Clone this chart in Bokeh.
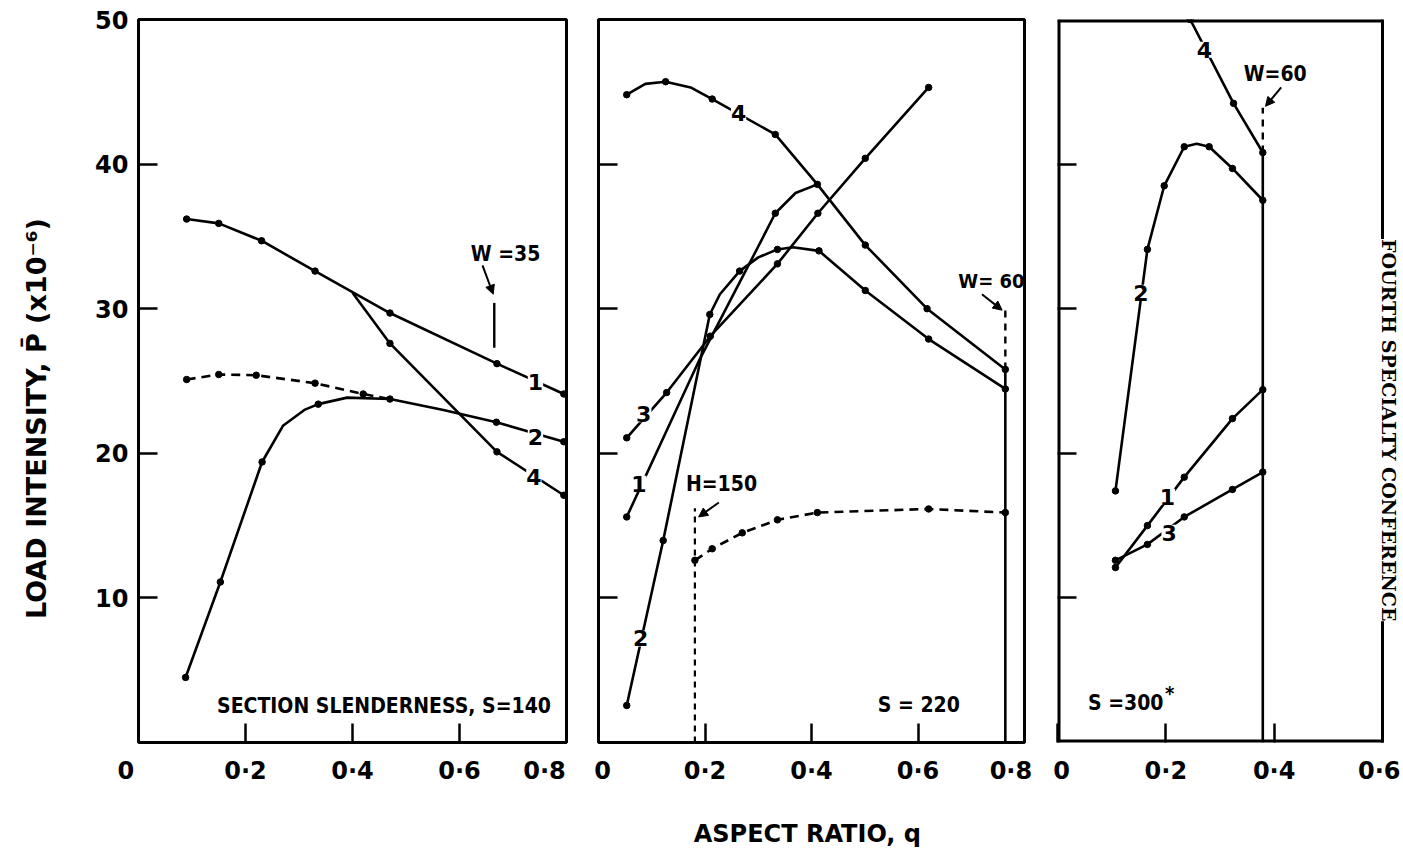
import math
from bokeh.plotting import figure
from bokeh.layouts import row
from bokeh.models import Label, Arrow, NormalHead, FixedTicker, Range1d
from bokeh.embed import file_html
from bokeh.resources import INLINE

# ---------------- data ----------------
# Panel 1 : S = 140   (q = aspect ratio, P = load intensity x1e-6)
p1_c1_q = [0.09, 0.15, 0.23, 0.33, 0.47, 0.67, 0.795]
p1_c1_P = [36.2, 35.9, 34.7, 32.6, 29.7, 26.2, 24.1]
p1_c4_q = [0.40, 0.47, 0.67, 0.795]
p1_c4_P = [31.1, 27.6, 20.1, 17.1]
p1_c4_mark = [1, 2, 3]
p1_c2_q = [0.09, 0.15, 0.22, 0.33, 0.42, 0.47]
p1_c2_P = [25.1, 25.45, 25.4, 24.85, 24.1, 23.75]
p1_c2_mark = [0, 1, 2, 3, 4]
p1_c3_q = [0.088, 0.153, 0.231, 0.27, 0.31, 0.336, 0.39, 0.47, 0.57, 0.669, 0.795]
p1_c3_P = [4.5, 11.1, 19.4, 21.9, 23.0, 23.4, 23.85, 23.75, 23.0, 22.15, 20.8]
p1_c3_mark = [0, 1, 2, 5, 7, 9, 10]
p1_W_q = [0.665, 0.665]
p1_W_P = [27.3, 30.4]

# Panel 2 : S = 220
p2_c4_q = [0.053, 0.088, 0.126, 0.173, 0.2135, 0.332, 0.411, 0.501, 0.617, 0.764]
p2_c4_P = [44.8, 45.55, 45.7, 45.3, 44.5, 42.05, 38.6, 34.4, 30.0, 25.8]
p2_c4_mark = [0, 2, 4, 5, 6, 7, 8, 9]
p2_c3_q = [0.053, 0.128, 0.21, 0.336, 0.412, 0.501, 0.62]
p2_c3_P = [21.07, 24.2, 28.1, 33.1, 36.6, 40.4, 45.3]
p2_c2_q = [0.053, 0.1215, 0.209, 0.228, 0.265, 0.30, 0.336, 0.365, 0.414, 0.501, 0.62, 0.764]
p2_c2_P = [2.56, 13.97, 29.6, 31.0, 32.6, 33.55, 34.1, 34.25, 34.0, 31.26, 27.9, 24.45]
p2_c2_mark = [0, 1, 2, 4, 6, 8, 9, 10, 11]
p2_c1_q = [0.053, 0.19, 0.30, 0.332, 0.37, 0.411]
p2_c1_P = [15.6, 26.5, 34.3, 36.6, 38.0, 38.6]
p2_c1_mark = [0, 3]
p2_H_q = [0.181, 0.2135, 0.27, 0.336, 0.411, 0.62, 0.764]
p2_H_P = [12.6, 13.4, 14.5, 15.4, 15.9, 16.15, 15.9]
p2_Hline_q = [0.181, 0.181]
p2_Hline_P = [0.0, 16.2]
p2_W_q = [0.764, 0.764]
p2_W_solid_P = [0.0, 25.8]
p2_W_dash_P = [25.8, 30.1]

# Panel 3 : S = 300*
p3_c4_q = [0.245, 0.325, 0.379]
p3_c4_P = [50.0, 44.2, 40.8]
p3_c2_q = [0.107, 0.166, 0.197, 0.234, 0.257, 0.280, 0.323, 0.379]
p3_c2_P = [17.4, 34.1, 38.5, 41.2, 41.4, 41.2, 39.7, 37.5]
p3_c2_mark = [0, 1, 2, 3, 5, 6, 7]
p3_c1_q = [0.107, 0.166, 0.234, 0.323, 0.379]
p3_c1_P = [12.1, 15.0, 18.35, 22.4, 24.4]
p3_c3_q = [0.107, 0.166, 0.234, 0.323, 0.379]
p3_c3_P = [12.6, 13.7, 15.6, 17.5, 18.7]
p3_W_q = [0.379, 0.379]
p3_W_solid_P = [0.0, 40.8]
p3_W_dash_P = [40.8, 43.9]

# curve number labels
p1_lbl_text = ["1", "2", "4"]
p1_lbl_q = [0.742, 0.742, 0.739]
p1_lbl_P = [24.9, 21.1, 18.35]
p2_lbl_text = ["4", "3", "1", "2"]
p2_lbl_q = [0.263, 0.085, 0.0757, 0.079]
p2_lbl_P = [43.5, 22.7, 17.9, 7.2]
p3_lbl_text = ["4", "2", "1", "3"]
p3_lbl_q = [0.271, 0.154, 0.203, 0.206]
p3_lbl_P = [47.9, 31.1, 17.0, 14.5]

# axis ticks and their labels
NB = "\u00a0"
y_ticks = [10, 20, 30, 40, 50]
y_ticks_inner = [10, 20, 30, 40]
p1_xticks = [0.0, 0.2, 0.4, 0.6, 0.8]
p1_xtick_text = ["0" + NB * 3, "0·2", "0·4", "0·6", "0·8" + NB * 2]
p2_xticks = [0.0, 0.2, 0.4, 0.6, 0.8]
p2_xtick_text = [NB + "0", "0·2", "0·4", "0·6", "0·8" + NB]
p3_xticks = [0.0, 0.2, 0.4, 0.6]
p3_xtick_text = [NB + "0", "0·2", "0·4", "0·6"]
p3_xmax = 0.6

NUMFONT = "DejaVu Sans"
TXTFONT = "DejaVu Sans Condensed"
FRAME_H = 723


def make_panel(xrange_end, frame_w, b_left, b_right, xticks, xtext, yticks, ylabels, outline=True):
    p = figure(frame_width=frame_w, frame_height=FRAME_H,
               x_range=Range1d(0, xrange_end), y_range=Range1d(0, 50),
               output_backend="svg", toolbar_location=None,
               min_border_left=b_left, min_border_right=b_right,
               min_border_top=19, min_border_bottom=106,
               background_fill_color="white", border_fill_color="white")
    p.grid.visible = False
    p.outline_line_color = "black" if outline else None
    p.outline_line_width = 3
    for ax in (p.xaxis[0], p.yaxis[0]):
        ax.axis_line_color = None
        ax.major_tick_in = 19
        ax.major_tick_out = 0
        ax.minor_tick_line_color = None
        ax.major_tick_line_width = 2.5
        ax.major_tick_line_color = "black"
        ax.major_label_text_font = NUMFONT
        ax.major_label_text_font_style = "bold"
        ax.major_label_text_font_size = "24px"
        ax.major_label_text_color = "black"
        ax.axis_label_text_color = "black"
    p.xaxis.ticker = FixedTicker(ticks=xticks)
    p.xaxis.major_label_overrides = dict(zip(xticks, xtext))
    p.xaxis.major_label_standoff = 14
    p.yaxis.ticker = FixedTicker(ticks=yticks)
    if ylabels:
        p.yaxis.major_label_standoff = 10
    else:
        p.yaxis.major_label_text_font_size = "1px"
        p.yaxis.major_label_text_color = None
        p.yaxis.major_label_standoff = 0
    return p


def curve(p, q, P, marks=None, dash="solid"):
    p.line(q, P, line_color="black", line_width=2.6, line_dash=dash)
    if marks is None:
        marks = range(len(q))
    p.scatter([q[i] for i in marks], [P[i] for i in marks], size=6.5,
              marker="circle", color="black")


def text(p, x, y, s, size="22px", font=NUMFONT, bg=None, xo=0, yo=0, angle=0):
    p.add_layout(Label(x=x, y=y, text=s, text_font=font, text_font_style="bold",
                       text_font_size=size, text_align="center", text_baseline="middle",
                       text_color="black", background_fill_color=bg,
                       x_offset=xo, y_offset=yo, angle=angle))


def arrow(p, x0, y0, x1, y1):
    p.add_layout(Arrow(end=NormalHead(size=9, fill_color="black", line_color="black"),
                       x_start=x0, y_start=y0, x_end=x1, y_end=y1,
                       line_width=2, line_color="black"))


# ---------------- panel 1 ----------------
p1 = make_panel(0.8, 428, 138, 16, p1_xticks, p1_xtick_text, y_ticks, True)
p1.yaxis.axis_label = "LOAD   INTENSITY,   P\u0304     (x10\u207b\u2076)"
p1.yaxis.axis_label_text_font = NUMFONT
p1.yaxis.axis_label_text_font_style = "bold"
p1.yaxis.axis_label_text_font_size = "27px"
p1.yaxis.axis_label_standoff = 40
curve(p1, p1_c1_q, p1_c1_P)
curve(p1, p1_c4_q, p1_c4_P, p1_c4_mark)
curve(p1, p1_c2_q, p1_c2_P, p1_c2_mark, dash="9 6")
curve(p1, p1_c3_q, p1_c3_P, p1_c3_mark)
p1.line(p1_W_q, p1_W_P, line_color="black", line_width=2.4)
arrow(p1, 0.643, 33.0, 0.663, 31.0)
text(p1, 0.686, 33.8, "W =35", size="21px", font=TXTFONT)
for t, q, P in zip(p1_lbl_text, p1_lbl_q, p1_lbl_P):
    text(p1, q, P, t, bg="white")
text(p1, 0.465, 2.5, "SECTION  SLENDERNESS, S=140", size="21px", font=TXTFONT)

# ---------------- panel 2 ----------------
p2 = make_panel(0.8, 426, 16, 16, p2_xticks, p2_xtick_text, y_ticks_inner, False)
p2.xaxis.axis_label = "ASPECT  RATIO, q"
p2.xaxis.axis_label_text_font = NUMFONT
p2.xaxis.axis_label_text_font_style = "bold"
p2.xaxis.axis_label_text_font_size = "24px"
p2.xaxis.axis_label_standoff = 32
curve(p2, p2_c4_q, p2_c4_P, p2_c4_mark)
curve(p2, p2_c3_q, p2_c3_P)
curve(p2, p2_c2_q, p2_c2_P, p2_c2_mark)
curve(p2, p2_c1_q, p2_c1_P, p2_c1_mark)
curve(p2, p2_H_q, p2_H_P, dash="9 6")
p2.line(p2_Hline_q, p2_Hline_P, line_color="black", line_width=2.2, line_dash="6 5")
p2.line(p2_W_q, p2_W_solid_P, line_color="black", line_width=2.6)
p2.line(p2_W_q, p2_W_dash_P, line_color="black", line_width=2.4, line_dash="7 6")
arrow(p2, 0.226, 16.6, 0.188, 15.6)
text(p2, 0.231, 17.9, "H=150", size="21px", font=TXTFONT)
arrow(p2, 0.720, 31.0, 0.758, 29.9)
text(p2, 0.738, 31.95, "W= 60", size="20px", font=TXTFONT)
for t, q, P in zip(p2_lbl_text, p2_lbl_q, p2_lbl_P):
    text(p2, q, P, t, bg="white")
text(p2, 0.614, 2.56, "S  =  220", size="21px", font=TXTFONT)

# ---------------- panel 3 ----------------
# the frame runs on past q = 0.6 so that the side caption can sit over the right border
p3_frame_w = 325
p3_extra_px = 18
p3 = make_panel(p3_xmax * (p3_frame_w + p3_extra_px) / p3_frame_w, p3_frame_w + p3_extra_px,
                17, 0, p3_xticks, p3_xtick_text, y_ticks_inner, False, outline=False)
# panel border (left/top/bottom sit on the clipped frame edge, so drawn twice as wide)
p3.line([0, p3_xmax], [50, 50], line_color="black", line_width=6)
p3.line([0, p3_xmax], [0, 0], line_color="black", line_width=6)
p3.line([0, 0], [0, 50], line_color="black", line_width=6)
p3.line([p3_xmax, p3_xmax], [0, 50], line_color="black", line_width=3, line_cap="square")
curve(p3, p3_c4_q, p3_c4_P)
curve(p3, p3_c2_q, p3_c2_P, p3_c2_mark)
curve(p3, p3_c1_q, p3_c1_P)
curve(p3, p3_c3_q, p3_c3_P)
p3.line(p3_W_q, p3_W_solid_P, line_color="black", line_width=2.6)
p3.line(p3_W_q, p3_W_dash_P, line_color="black", line_width=2.4, line_dash="7 6")
arrow(p3, 0.413, 45.3, 0.384, 44.0)
text(p3, 0.402, 46.25, "W=60", size="21px", font=TXTFONT)
for t, q, P in zip(p3_lbl_text, p3_lbl_q, p3_lbl_P):
    text(p3, q, P, t, bg="white")
text(p3, 0.126, 2.76, "S =300", size="21px", font=TXTFONT)
text(p3, 0.126, 2.76, "*", size="20px", font=TXTFONT, xo=44, yo=10)
text(p3, p3_xmax, 21.6, "FOURTH SPECIALTY CONFERENCE", size="19px", font="DejaVu Serif",
     bg="white", xo=6, angle=-math.pi / 2)

layout = row(p1, p2, p3)
open("out.html", "w").write(file_html(layout, INLINE))
